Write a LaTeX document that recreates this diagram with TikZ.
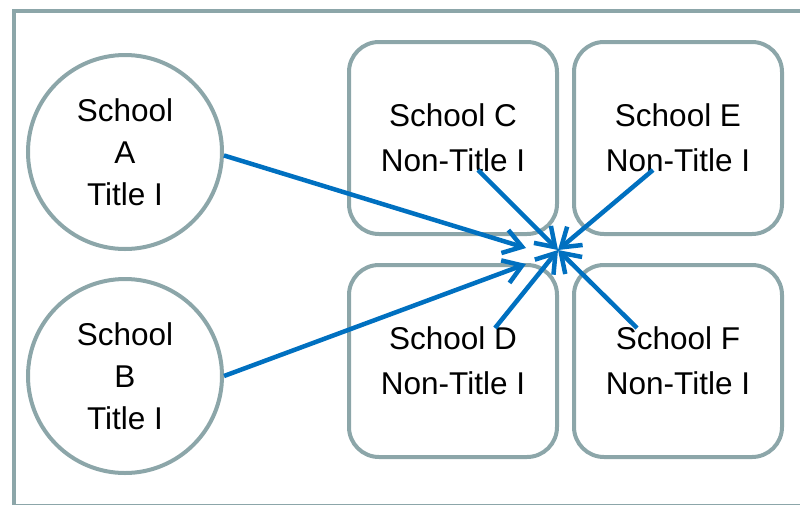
\documentclass[tikz,border=0pt]{standalone}
\usepackage{fontspec}
\setmainfont{Liberation Sans}
\usetikzlibrary{arrows.meta}
\definecolor{frame}{HTML}{8CA6A9}
\definecolor{arrowblue}{HTML}{0070C0}

\begin{document}
\begin{tikzpicture}[x=1pt,y=-1pt,
	titleone/.style={draw=frame,line width=4pt,circle,minimum size=194pt,align=center,font=\fontsize{31.5}{42}\selectfont},
	nontitle/.style={draw=frame,line width=4pt,rounded corners=30pt,minimum width=208pt,minimum height=192pt,align=center,font=\fontsize{31.5}{45}\selectfont},
	link/.style={draw=arrowblue,line width=4.5pt,-{Straight Barb[length=18pt,width=24pt]}}]
			%%%%% START %%%%%
			\useasboundingbox (0,0) rectangle (800,504);
			\draw[frame,line width=4pt] (14,11) rectangle (812,506);
			
			\node[titleone] (A) at (125,152) {School\\A\\Title I};
			\node[titleone] (B) at (125,376) {School\\B\\Title I};
			
			\node[nontitle] (C) at (453,138) {School C\\Non-Title I};
			\node[nontitle] (E) at (678,138) {School E\\Non-Title I};
			\node[nontitle] (D) at (453,361) {School D\\Non-Title I};
			\node[nontitle] (F) at (678,361) {School F\\Non-Title I};
			
			\coordinate (hub) at (558,250);
			\coordinate (endA) at (526,248);
			\coordinate (endB) at (526,264);
			\coordinate (fromC) at (478,170);
			\coordinate (fromE) at (653,170);
			\coordinate (fromD) at (495,328);
			\coordinate (fromF) at (637,328);
			
			\draw[link] (A.-2) -- (endA);
			\draw[link] (B.east) -- (endB);
			\draw[link] (fromC) -- (hub);
			\draw[link] (fromE) -- (hub);
			\draw[link] (fromD) -- (hub);
			\draw[link] (fromF) -- (hub);
			%%%%% END %%%%%
\end{tikzpicture}
\end{document}
